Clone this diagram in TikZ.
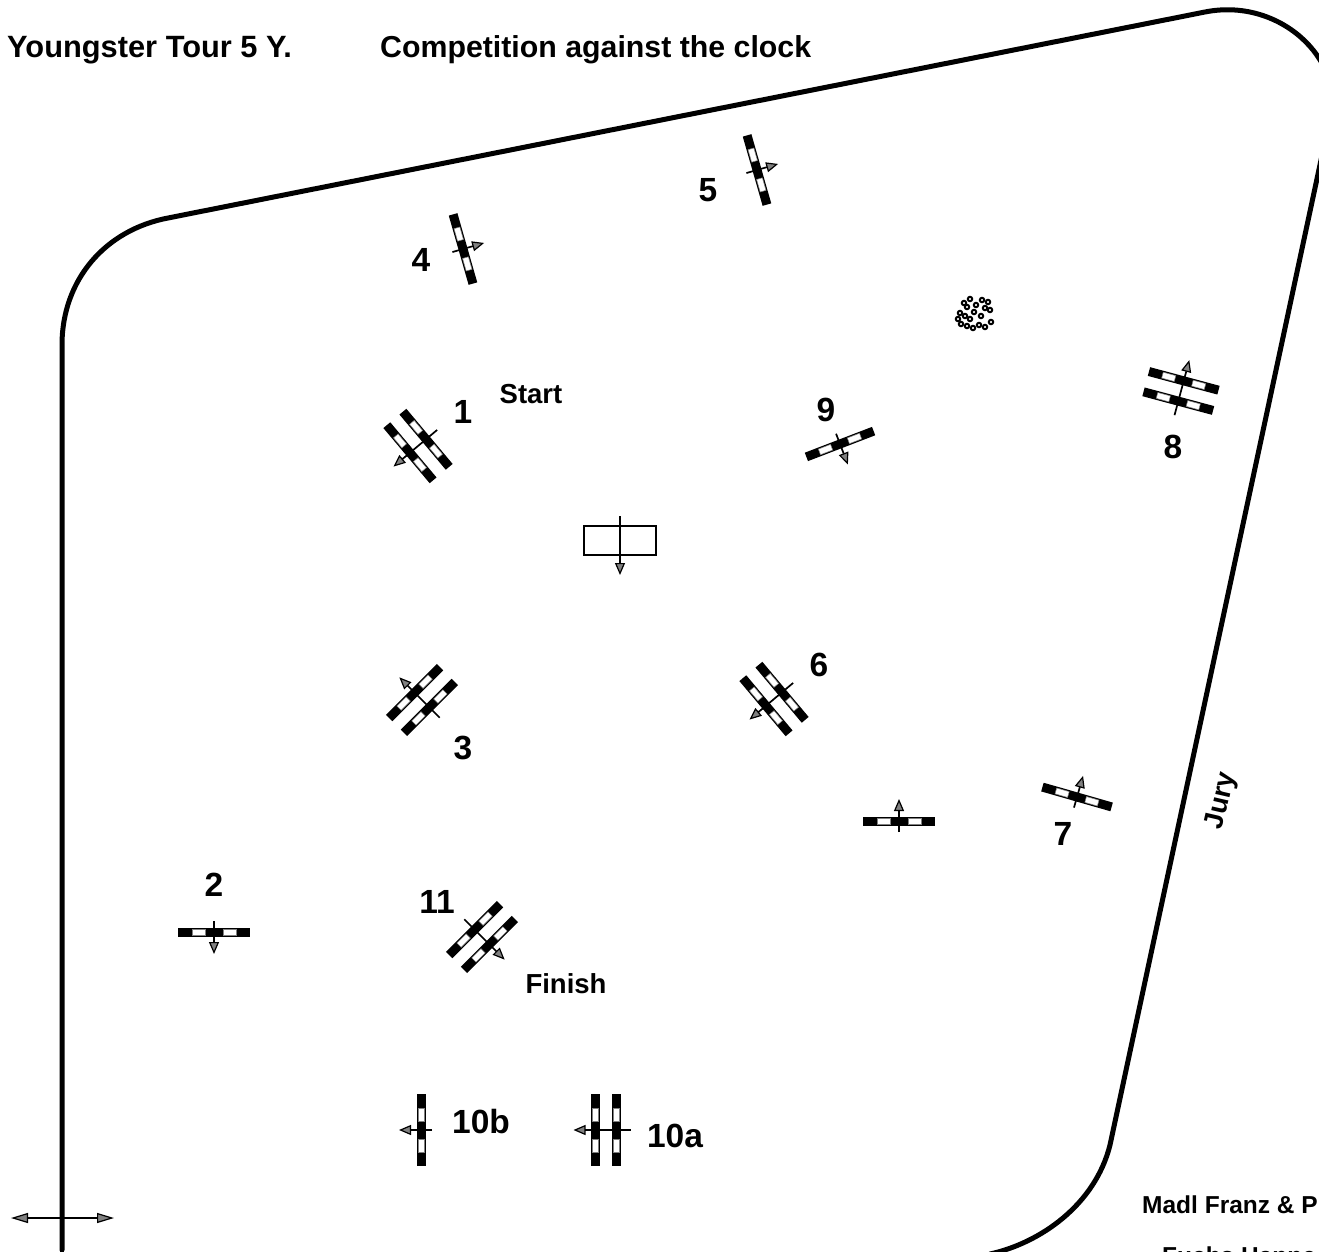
\documentclass[tikz,border=0pt]{standalone}
\usepackage{fontspec}
\setmainfont{Liberation Sans}
\usetikzlibrary{arrows.meta}
\newcommand{\railbar}[1]{
  \fill[black] (#1-4.5,-36) rectangle (#1+4.5,36);
  \fill[white,draw=gray,line width=0.5pt] (#1-3,-22) rectangle (#1+3,-9);
  \fill[white,draw=gray,line width=0.5pt] (#1-3,9) rectangle (#1+3,22);
}
\tikzset{
  ringline/.style={line width=5pt,line cap=round},
  flowline/.style={line width=1.7pt,-{Triangle[length=12pt,width=10pt,fill=gray,line width=1.2pt]}},
  headtext/.style={font=\bfseries\fontsize{30.3}{34}\selectfont,anchor=base west,inner sep=0pt},
  numtext/.style={font=\bfseries\fontsize{33.5}{36}\selectfont,inner sep=0pt},
  marktext/.style={font=\bfseries\fontsize{27.5}{30}\selectfont,inner sep=0pt},
  smalltext/.style={font=\bfseries\fontsize{24.5}{28}\selectfont,anchor=base west,inner sep=0pt},
  single/.pic={
    \railbar{0}
    \draw[flowline] (-11,0) -- (22,0);
  },
  oxer/.pic={
    \railbar{-10.5}
    \railbar{10.5}
    \draw[flowline] (-25,0) -- (32,0);
  },
}
\begin{document}
\begin{tikzpicture}[x=1pt,y=-1pt]
  \useasboundingbox (0,0) rectangle (1319,1252);
  \clip (0,0) rectangle (1319,1252);
  % ring
  \draw[ringline] (62,1250) -- (62,345) .. controls (62,280) and (105,230) .. (168,218)
    -- (1205,12) .. controls (1280,-3) and (1345,60) .. (1330,118)
    -- (1110,1145) .. controls (1095,1205) and (1040,1243) .. (990,1254);
  % head line
  \node[headtext,font=\bfseries\fontsize{30.8}{34}\selectfont] (title) at (7,58) {Youngster Tour 5 Y.};
  \node[headtext] (comp) at (380,58) {Competition against the clock};
  % obstacles
  \pic[rotate=220] at (418,446) {oxer};
  \pic[rotate=-90] at (214,932) {single};
  \pic[rotate=135] at (422,700) {oxer};
  \pic[rotate=16] at (463,249) {single};
  \pic[rotate=16] at (757,170) {single};
  \pic[rotate=220] at (774,699) {oxer};
  \pic[rotate=90] at (899,821) {single};
  \pic[rotate=74] at (1077,797) {single};
  \pic[rotate=75] at (1181,391) {oxer};
  \pic[rotate=-69] at (840,444) {single};
  \pic[rotate=180] at (605.5,1130) {oxer};
  \pic[rotate=180] at (421,1130) {single};
  \pic[rotate=-45] at (482,937) {oxer};
  % numbers
  \node[numtext] (n1) at (463,412) {1};
  \node[numtext] (n2) at (214,885) {2};
  \node[numtext] (n3) at (463,748) {3};
  \node[numtext] (n4) at (421,260) {4};
  \node[numtext] (n5) at (708,190) {5};
  \node[numtext] (n6) at (819,665) {6};
  \node[numtext] (n7) at (1063,834) {7};
  \node[numtext] (n8) at (1173,447) {8};
  \node[numtext] (n9) at (826,410) {9};
  \node[numtext] (n10b) at (481,1122) {10b};
  \node[numtext] (n10a) at (675,1136) {10a};
  \node[numtext] (n11) at (437,902) {11};
  \node[marktext] (start) at (531,394) {Start};
  \node[marktext] (finish) at (566,984) {Finish};
  \node[marktext,rotate=77] (jury) at (1222,801) {Jury};
  % start box
  \draw[line width=1.5pt] (584,526) rectangle (656,555);
  \draw[flowline] (620,516) -- (620,575);
  % bush
  \foreach \x/\y in {964/303,970/299,967/307,982/300,988/302,985/308,990/310,960/313,965/316,958/319,
    961/324,967/326,973/328,979/325,985/327,991/322,981/316,974/312,976/305,970/319}{
    \draw[line width=2pt,black] (\x,\y) circle (2.2);
  }
  % exit arrows
  \draw[line width=1.7pt,{Triangle[length=17pt,width=10pt,fill=gray,line width=1.2pt]}-{Triangle[length=17pt,width=10pt,fill=gray,line width=1.2pt]}] (11,1218) -- (114,1218);
  % names
  \node[smalltext] (madl) at (1142,1213) {Madl Franz \& P};
  \node[smalltext] (fuchs) at (1162,1264) {Fuchs Hanne};
\end{tikzpicture}
\end{document}
